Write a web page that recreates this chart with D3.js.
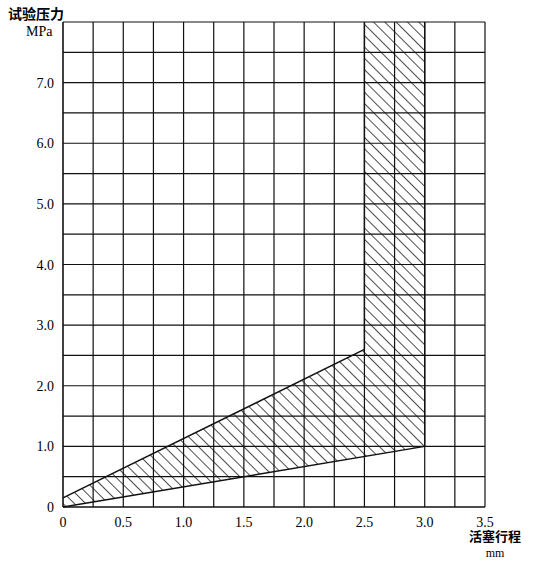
<!DOCTYPE html><html><head><meta charset="utf-8"><script src="https://d3js.org/d3.v7.min.js"></script>
<style>body{margin:0;background:#fff}text{font-family:"Liberation Serif","DejaVu Serif",serif}</style></head><body><svg id="c" width="540" height="564"></svg><script>
const xTicks=[0,0.5,1.0,1.5,2.0,2.5,3.0,3.5];
const yTicks=[0,1.0,2.0,3.0,4.0,5.0,6.0,7.0];
const upperLine=[[0,0.15],[2.5,2.6]];
const bandTop=[[2.5,8],[3.0,8]];
const lowerLine=[[3.0,1.0],[0,0]];
const svg=d3.select("#c");
const x=d3.scaleLinear().domain([0,3.5]).range([63,485]);
const y=d3.scaleLinear().domain([0,8]).range([507,22]);
const g=svg.append("g");
d3.range(0,3.5001,0.25).forEach(v=>g.append("line").attr("x1",x(v)).attr("x2",x(v)).attr("y1",y(0)).attr("y2",y(8)).attr("stroke","#111").attr("stroke-width",v===0?1.6:1.2));
d3.range(0,8.0001,0.5).forEach(v=>g.append("line").attr("x1",x(0)).attr("x2",x(3.5)).attr("y1",y(v)).attr("y2",y(v)).attr("stroke","#111").attr("stroke-width",v===0?1.6:1.2));
const pat=svg.append("defs").append("pattern").attr("id","h").attr("patternUnits","userSpaceOnUse").attr("width",8).attr("height",8).attr("patternTransform","rotate(-45)");
pat.append("line").attr("x1",0).attr("y1",0).attr("x2",0).attr("y2",8).attr("stroke","#111").attr("stroke-width",1.5);
const poly=upperLine.concat(bandTop,lowerLine);
svg.append("path").attr("d",d3.line().x(d=>x(d[0])).y(d=>y(d[1]))(poly)+"Z").attr("fill","url(#h)").attr("stroke","none");
svg.append("path").attr("d",d3.line().x(d=>x(d[0])).y(d=>y(d[1]))(upperLine)).attr("stroke","#111").attr("stroke-width",1.5).attr("fill","none");
svg.append("path").attr("d",d3.line().x(d=>x(d[0])).y(d=>y(d[1]))(lowerLine)).attr("stroke","#111").attr("stroke-width",1.5).attr("fill","none");
svg.append("line").attr("x1",x(2.5)).attr("x2",x(2.5)).attr("y1",y(2.6)).attr("y2",y(8)).attr("stroke","#111").attr("stroke-width",1.4);
svg.append("line").attr("x1",x(3)).attr("x2",x(3)).attr("y1",y(1)).attr("y2",y(8)).attr("stroke","#111").attr("stroke-width",1.4);
xTicks.forEach(v=>svg.append("text").attr("x",x(v)).attr("y",527).attr("text-anchor","middle").attr("font-size",14).text(v===0?"0":v.toFixed(1)));
yTicks.forEach(v=>svg.append("text").attr("x",54).attr("y",y(v)+5).attr("text-anchor","end").attr("font-size",14).text(v===0?"0":v.toFixed(1)));
svg.append("text").attr("x",8).attr("y",19).attr("font-size",14).attr("font-weight","bold").style("font-family","Noto Sans CJK SC").text("试验压力");
svg.append("text").attr("x",26).attr("y",36).attr("font-size",14).text("MPa");
svg.append("text").attr("x",469).attr("y",541).attr("font-size",13).attr("font-weight","bold").style("font-family","Noto Sans CJK SC").text("活塞行程");
svg.append("text").attr("x",495).attr("y",557).attr("text-anchor","middle").attr("font-size",12).text("mm");
</script></body></html>
